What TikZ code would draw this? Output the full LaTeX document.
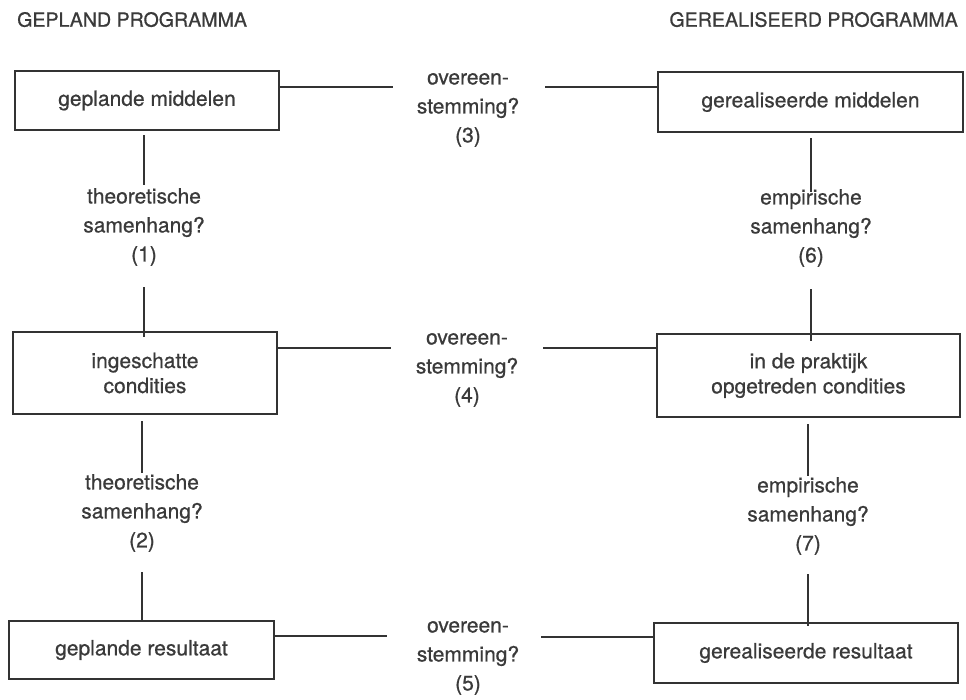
\documentclass[tikz,border=0pt]{standalone}
\usepackage{fontspec}
\setmainfont{TeX Gyre Heros}[FakeBold=0.7]
\definecolor{ink}{HTML}{3A3A3A}
\definecolor{linec}{HTML}{333333}
\begin{document}
\begin{tikzpicture}[x=1pt,y=-1pt,
  box/.style={draw=linec, line width=2pt, inner sep=0pt, align=center,
    text=ink, font=\fontsize{21}{25}\selectfont},
  lbl/.style={inner sep=0pt, align=center, text=ink,
    font=\fontsize{21}{29}\selectfont},
  hdr/.style={inner sep=0pt, text=ink, font=\fontsize{19.6}{22}\selectfont},
  conn/.style={draw=linec, line width=2pt}]
\useasboundingbox (0,0) rectangle (966,699);
\fill[white] (0,0) rectangle (966,699);

% headers
\node[hdr, anchor=base west] (hl) at (17,26.7) {GEPLAND PROGRAMMA};
\node[hdr, anchor=base east] (hr) at (958,26.7) {GEREALISEERD PROGRAMMA};

% boxes
\node[box, minimum width=264pt, minimum height=59pt] (b1) at (147,100.5) {geplande middelen};
\node[box, minimum width=264pt, minimum height=82pt] (b2) at (145,373) {ingeschatte\\condities};
\node[box, minimum width=265pt, minimum height=58pt] (b3) at (141.5,650) {geplande resultaat};
\node[box, minimum width=305pt, minimum height=60pt] (b4) at (810.5,102) {gerealiseerde middelen};
\node[box, minimum width=303pt, minimum height=83pt] (b5) at (808.5,375.5) {in de praktijk\\opgetreden condities};
\node[box, minimum width=304pt, minimum height=60pt] (b6) at (806,653) {gerealiseerde resultaat};

% labels
\node[lbl] (t1) at (144,227) {theoretische\\samenhang?\\(1)};
\node[lbl] (t2) at (142,513) {theoretische\\samenhang?\\(2)};
\node[lbl] (t6) at (811,228) {empirische\\samenhang?\\(6)};
\node[lbl] (t7) at (808,516) {empirische\\samenhang?\\(7)};
\node[lbl] (o3) at (468,110) {overeen-\\stemming?\\(3)};
\node[lbl] (o4) at (467,370) {overeen-\\stemming?\\(4)};
\node[lbl] (o5) at (468,658) {overeen-\\stemming?\\(5)};

% connector end points
\coordinate (v1a) at (144,185); \coordinate (v1b) at (144,287);
\coordinate (v2a) at (142,473); \coordinate (v2b) at (142,572);
\coordinate (v6a) at (811,192); \coordinate (v6b) at (811,289);
\coordinate (v7a) at (808,476); \coordinate (v7b) at (808,574);
\coordinate (h3a) at (393,86.5); \coordinate (h3b) at (545,86.5);
\coordinate (h4a) at (391,347.5); \coordinate (h4b) at (543,347.5);
\coordinate (h5a) at (387,636); \coordinate (h5b) at (541,636.5);

% vertical connectors
\draw[conn] ([yshift=-4pt]b1.south -| v1a) -- (v1a);
\draw[conn] (v1b) -- ([yshift=-6pt]b2.north -| v1b);
\draw[conn] ([yshift=-6pt]b2.south -| v2a) -- (v2a);
\draw[conn] (v2b) -- ([yshift=-2pt]b3.north -| v2b);
\draw[conn] ([yshift=-5pt]b4.south -| v6a) -- (v6a);
\draw[conn] (v6b) -- ([yshift=-8pt]b5.north -| v6b);
\draw[conn] ([yshift=-6pt]b5.south -| v7a) -- (v7a);
\draw[conn] (v7b) -- ([yshift=-4pt]b6.north -| v7b);

% horizontal connectors
\draw[conn] (b1.east |- h3a) -- (h3a);
\draw[conn] (h3b) -- (b4.west |- h3b);
\draw[conn] (b2.east |- h4a) -- (h4a);
\draw[conn] (h4b) -- (b5.west |- h4b);
\draw[conn] (b3.east |- h5a) -- (h5a);
\draw[conn] (h5b) -- (b6.west |- h5b);
\end{tikzpicture}
\end{document}
